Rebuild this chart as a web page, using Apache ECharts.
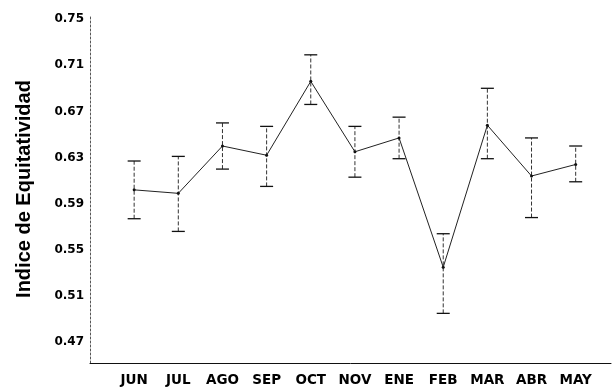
<!DOCTYPE html>
<html>
<head>
<meta charset="utf-8">
<script src="https://cdn.jsdelivr.net/npm/echarts@6/dist/echarts.min.js"></script>
<style>html,body{margin:0;padding:0;background:#fff}#c{width:613px;height:389px}</style>
</head>
<body>
<div id="c"></div>
<script>
const months = ['JUN','JUL','AGO','SEP','OCT','NOV','ENE','FEB','MAR','ABR','MAY'];
const meanValues  = [0.602, 0.599, 0.640, 0.632, 0.696, 0.635, 0.647, 0.535, 0.658, 0.614, 0.624];
const upperValues = [0.627, 0.631, 0.660, 0.657, 0.719, 0.657, 0.665, 0.564, 0.690, 0.647, 0.640];
const lowerValues = [0.577, 0.566, 0.620, 0.605, 0.676, 0.613, 0.629, 0.495, 0.629, 0.578, 0.609];
const yTicks = [0.47, 0.51, 0.55, 0.59, 0.63, 0.67, 0.71, 0.75];
const xTicks = months.map((m, i) => i);

const chart = echarts.init(document.getElementById('c'), null, {renderer: 'canvas'});
const wideFont = '"DejaVu Sans", sans-serif';
const titleFont = '"Liberation Sans", Arial, sans-serif';
chart.setOption({
  animation: false,
  backgroundColor: '#fff',
  grid: {left: 90, right: 2, top: 15, bottom: 26, containLabel: false},
  xAxis: {
    type: 'value', min: -1, max: 10.8,
    axisLine: {show: true, onZero: false, lineStyle: {color: '#111', width: 1}},
    axisTick: {show: false},
    splitLine: {show: false},
    axisLabel: {
      customValues: xTicks,
      formatter: v => months[v] || '',
      color: '#000', fontWeight: 'bold', fontSize: 13.5, fontFamily: wideFont, margin: 10
    }
  },
  yAxis: {
    type: 'value', min: 0.452, max: 0.7535,
    name: 'Indice de Equitatividad', nameLocation: 'middle', nameGap: 56,
    nameTextStyle: {color: '#000', fontWeight: 'bold', fontSize: 20, fontFamily: titleFont},
    axisLine: {show: true, onZero: false, lineStyle: {color: '#555', width: 1, type: [2, 2]}},
    axisTick: {show: false},
    splitLine: {show: false},
    axisLabel: {
      customValues: yTicks,
      formatter: v => v.toFixed(2),
      color: '#000', fontWeight: 'bold', fontSize: 12, fontFamily: wideFont, margin: 6
    }
  },
  series: [
    {
      type: 'custom',
      data: months.map((m, i) => [i, lowerValues[i], upperValues[i]]),
      renderItem: function (params, api) {
        const x = api.value(0);
        const lo = api.coord([x, api.value(1)]);
        const hi = api.coord([x, api.value(2)]);
        const w = 6.5;
        return {
          type: 'group',
          children: [
            {type: 'line', shape: {x1: lo[0], y1: lo[1], x2: hi[0], y2: hi[1]},
             style: {stroke: '#333', lineWidth: 1, lineDash: [4, 2]}},
            {type: 'line', shape: {x1: hi[0] - w, y1: hi[1], x2: hi[0] + w, y2: hi[1]},
             style: {stroke: '#111', lineWidth: 1.3}},
            {type: 'line', shape: {x1: lo[0] - w, y1: lo[1], x2: lo[0] + w, y2: lo[1]},
             style: {stroke: '#111', lineWidth: 1.3}}
          ]
        };
      },
      z: 2
    },
    {
      type: 'line',
      data: months.map((m, i) => [i, meanValues[i]]),
      symbol: 'circle', symbolSize: 3,
      itemStyle: {color: '#111'},
      lineStyle: {color: '#222', width: 1},
      z: 3
    }
  ]
});
</script>
</body>
</html>
